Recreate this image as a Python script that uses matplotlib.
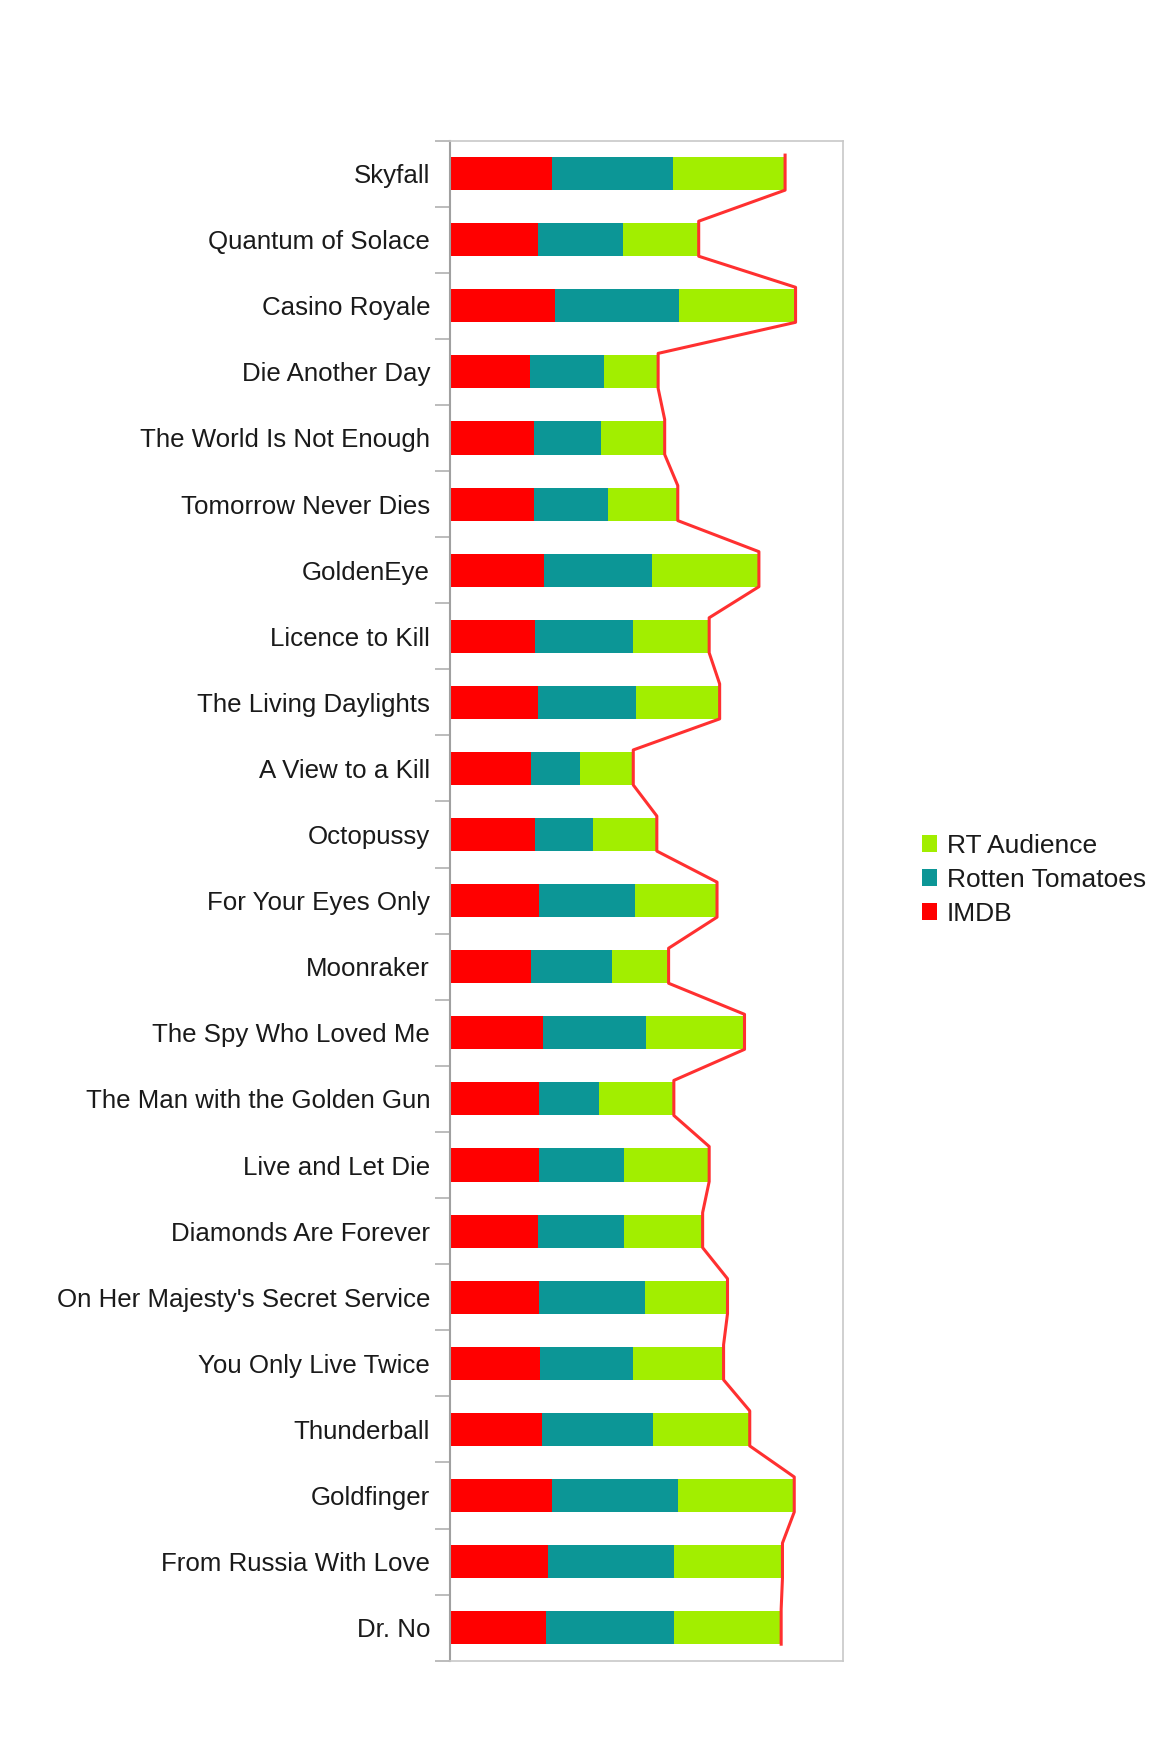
import numpy as np
import matplotlib
matplotlib.use('Agg')
import matplotlib.pyplot as plt

plt.rcParams['font.family'] = ['Liberation Sans', 'DejaVu Sans']

# Bond films, newest first (top of chart)
films = ['Skyfall', 'Quantum of Solace', 'Casino Royale', 'Die Another Day',
         'The World Is Not Enough', 'Tomorrow Never Dies', 'GoldenEye',
         'Licence to Kill', 'The Living Daylights', 'A View to a Kill',
         'Octopussy', 'For Your Eyes Only', 'Moonraker', 'The Spy Who Loved Me',
         'The Man with the Golden Gun', 'Live and Let Die', 'Diamonds Are Forever',
         "On Her Majesty's Secret Service", 'You Only Live Twice', 'Thunderball',
         'Goldfinger', 'From Russia With Love', 'Dr. No']

# IMDB rating x10
imdb = [78, 67, 80, 61, 64, 64, 72, 65, 67, 62, 65, 68, 62, 71, 68, 68, 67, 68, 69, 70, 78, 75, 73]
# Rotten Tomatoes critics %
rt = [92, 65, 95, 57, 51, 57, 82, 75, 75, 37, 44, 73, 62, 79, 46, 65, 66, 81, 71, 85, 96, 96, 98]
# RT audience %
rt_aud = [86, 58, 89, 41, 49, 53, 82, 58, 64, 41, 49, 63, 43, 75, 57, 65, 60, 63, 69, 74, 89, 83, 82]

imdb = np.array(imdb)
rt = np.array(rt)
rt_aud = np.array(rt_aud)
total = imdb + rt + rt_aud
y = np.arange(len(films))

c_imdb = '#ff0000'
c_rt = '#0c9696'
c_aud = '#a2ee00'

fig = plt.figure(figsize=(11.72, 17.57), dpi=100)
ax = fig.add_axes([0.384, 0.0548, 0.335, 0.8652])

h = 0.5
ax.barh(y, imdb, height=h, color=c_imdb, label='IMDB')
ax.barh(y, rt, left=imdb, height=h, color=c_rt, label='Rotten Tomatoes')
ax.barh(y, rt_aud, left=imdb + rt, height=h, color=c_aud, label='RT Audience')

# total line hugging the bar ends
ly = np.column_stack([y - h / 2 - 0.03, y + h / 2]).ravel()
lx = np.repeat(total, 2)
ax.plot(lx, ly, color='#ff3030', lw=2.2, zorder=3)

ax.set_xlim(0, 300)
ax.set_ylim(len(films) - 0.5, -0.5)

ax.set_yticks(y)
ax.set_yticklabels(films, fontsize=18.6, color='#1a1a1a')
ax.tick_params(axis='y', which='major', length=0, pad=14.4)
ax.set_yticks(np.arange(len(films) + 1) - 0.5, minor=True)
ax.tick_params(axis='y', which='minor', length=11, width=1.2, color='#b0b0b0')
ax.set_xticks([])

for s in ['top', 'right', 'bottom']:
    ax.spines[s].set_color('#c8c8c8')
    ax.spines[s].set_linewidth(1.2)
ax.spines['left'].set_color('#a0a0a0')
ax.spines['left'].set_linewidth(1.5)

handles, labels = ax.get_legend_handles_labels()
fig.legend(handles[::-1], labels[::-1], loc='upper left',
           bbox_to_anchor=(0.766, 0.539), frameon=False, fontsize=19,
           handlelength=0.6, handleheight=0.6, handletextpad=0.35,
           labelspacing=0.38, labelcolor='#1a1a1a')

fig.savefig('out.png', dpi=100, facecolor='white')
